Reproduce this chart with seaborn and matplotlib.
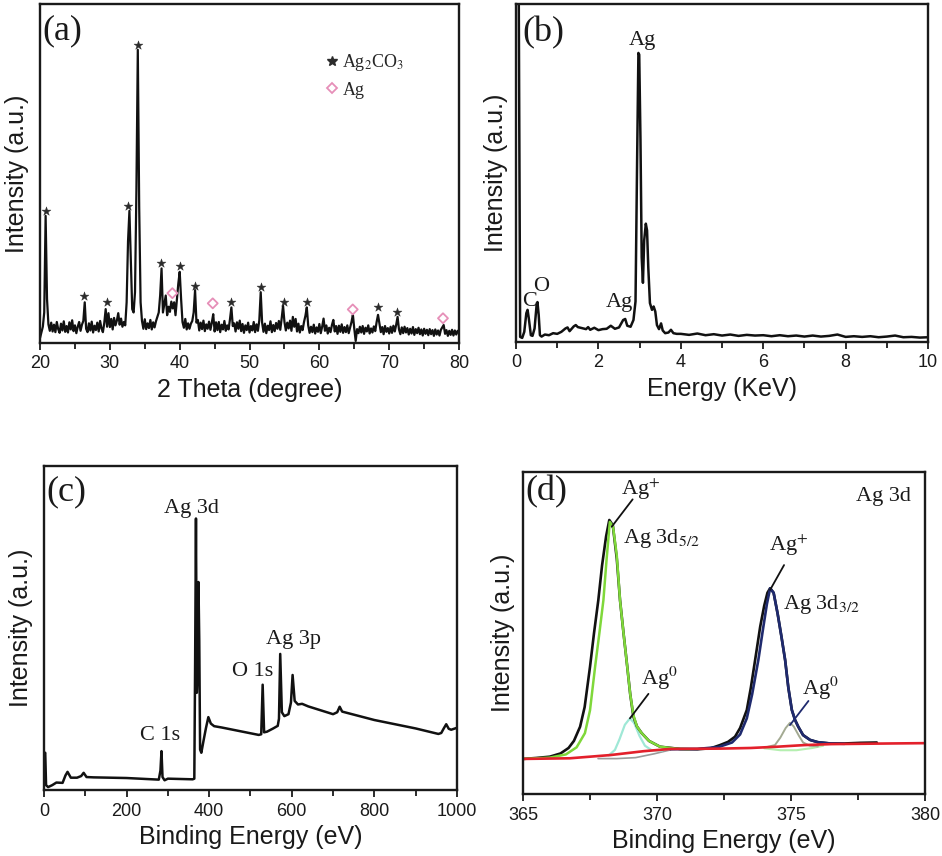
import numpy as np
import matplotlib
matplotlib.use("Agg")
import matplotlib.pyplot as plt
import seaborn as sns
from matplotlib.ticker import MultipleLocator
from matplotlib.lines import Line2D

# ---------------- (a) XRD pattern: sampled every 0.2 degree from 20 to 80 ----------------
xrd_start = 20.0
xrd_step = 0.2
xrd_y = [
    1.5, 3.2, 4.8, 9.0, 37.5, 13.0, 5.5, 3.6, 6.0, 3.4,      # 20.0-21.8
    5.4, 3.2, 6.2, 4.1, 3.0, 5.7, 3.7, 6.4, 3.3, 5.0,        # 22.0-23.8
    3.1, 6.1, 4.0, 6.7, 3.5, 5.2, 2.9, 4.8, 6.2, 3.6,        # 24.0-25.8
    5.4, 6.5, 12.0, 4.2, 3.2, 5.8, 3.7, 6.3, 3.1, 5.1,       # 26.0-27.8
    3.8, 6.0, 3.4, 6.5, 4.3, 3.2, 5.9, 10.0, 4.8, 8.8,       # 28.0-29.8
    4.7, 7.1, 4.0, 7.4, 5.2, 6.6, 8.8, 5.4, 7.2, 4.8,        # 30.0-31.8
    6.2, 5.2, 12.0, 30.0, 39.0, 24.0, 10.0, 9.0, 15.0, 45.0, # 32.0-33.8
    86.5, 40.0, 12.0, 6.5, 4.2, 7.0, 4.1, 5.8, 4.4, 6.8,     # 34.0-35.8
    4.0, 6.1, 4.6, 6.4, 7.7, 9.0, 14.0, 22.0, 9.0, 11.5,     # 36.0-37.8
    14.0, 8.2, 10.7, 9.2, 12.2, 10.2, 12.0, 8.2, 12.7, 17.5, # 38.0-39.8
    21.0, 13.0, 6.2, 4.5, 7.1, 4.0, 5.8, 4.2, 5.7, 6.5,      # 40.0-41.8
    9.0, 15.6, 6.0, 6.8, 3.7, 6.0, 4.1, 6.6, 3.5, 5.5,       # 42.0-43.8
    4.2, 6.3, 3.9, 6.0, 8.5, 3.4, 6.1, 3.8, 6.2, 3.2,        # 44.0-45.8
    5.4, 4.0, 6.5, 3.6, 5.2, 4.0, 7.0, 10.5, 5.0, 5.8,       # 46.0-47.8
    3.4, 6.1, 4.2, 6.6, 3.5, 5.6, 3.0, 5.2, 3.8, 6.0,        # 48.0-49.8
    3.1, 5.0, 3.7, 6.2, 3.2, 5.5, 3.6, 6.7, 15.0, 6.0,       # 50.0-51.8
    3.3, 5.7, 2.9, 5.1, 3.8, 6.4, 3.2, 5.3, 3.5, 5.9,        # 52.0-53.8
    4.2, 6.5, 3.9, 7.2, 11.0, 6.2, 3.7, 6.0, 4.3, 6.6,       # 54.0-55.8
    3.6, 7.7, 4.8, 7.1, 3.4, 5.7, 3.1, 5.0, 3.8, 6.2,        # 56.0-57.8
    8.0, 10.5, 5.2, 3.0, 4.8, 3.2, 5.4, 2.8, 4.6, 3.3,       # 58.0-59.8
    5.6, 2.9, 4.8, 7.2, 3.6, 5.2, 2.8, 4.5, 3.2, 5.3,        # 60.0-61.8
    6.8, 3.4, 5.0, 2.7, 5.1, 3.3, 5.5, 3.0, 4.7, 3.2,        # 62.0-63.8
    5.2, 2.9, 4.6, 6.2, 8.3, 4.2, 0.6, 4.1, 2.9, 4.8,        # 64.0-65.8
    3.1, 5.0, 2.7, 4.5, 3.4, 5.2, 2.8, 4.3, 3.1, 4.9,        # 66.0-67.8
    3.5, 6.2, 8.3, 5.7, 3.2, 4.7, 2.6, 5.0, 3.3, 4.4,        # 68.0-69.8
    2.8, 4.8, 3.0, 5.1, 3.4, 5.4, 7.7, 4.0, 2.6, 4.6,        # 70.0-71.8
    2.9, 4.8, 3.1, 4.4, 2.5, 4.2, 2.8, 4.7, 2.4, 4.1,        # 72.0-73.8
    2.9, 4.5, 2.6, 4.0, 2.2, 4.2, 2.7, 3.9, 2.3, 4.1,        # 74.0-75.8
    2.6, 3.8, 2.1, 4.0, 2.5, 3.7, 2.2, 3.9, 4.6, 5.3,        # 76.0-77.8
    2.7, 3.8, 2.1, 3.6, 2.4, 3.9, 2.2, 3.7, 2.5, 3.6,        # 78.0-79.8
    2.8,                                                     # 80.0
]
star_x = [20.86, 26.35, 29.55, 32.65, 33.99, 37.37, 40.09, 42.2, 47.4, 51.65, 54.9, 58.23, 68.44, 71.17]
star_y = [38.9, 13.9, 12.1, 40.5, 87.9, 23.5, 22.8, 16.9, 12.1, 16.6, 12.1, 12.1, 10.7, 9.0]
diam_x = [38.95, 44.73, 64.78, 77.7]
diam_y = [14.7, 11.7, 9.9, 7.3]
legend_labels_a = ["Ag$_2$CO$_3$", "Ag"]

# ---------------- (b) EDS spectrum ----------------
eds_x = [0.00, 0.06, 0.10, 0.15, 0.20, 0.25, 0.28, 0.31, 0.36, 0.40, 0.45, 0.50, 0.52, 0.55, 0.58,
         0.62, 0.70, 0.80, 0.90, 1.00, 1.10, 1.20, 1.25, 1.30, 1.40, 1.45, 1.50, 1.60, 1.70, 1.75,
         1.80, 1.90, 2.00, 2.10, 2.20, 2.30, 2.40, 2.50, 2.60, 2.65, 2.70, 2.78, 2.85, 2.90, 2.94,
         2.97, 2.99, 3.02, 3.05, 3.08, 3.11, 3.15, 3.18, 3.21, 3.25, 3.30, 3.34, 3.38, 3.42, 3.47,
         3.52, 3.56, 3.62, 3.70, 3.76, 3.82, 3.90,
         4.0, 4.2, 4.4, 4.6, 4.8, 5.0, 5.2, 5.4, 5.6, 5.8, 6.0, 6.2, 6.4, 6.6, 6.8, 7.0, 7.2, 7.4,
         7.6, 7.8, 8.0, 8.2, 8.4, 8.6, 8.8, 9.0, 9.2, 9.4, 9.6, 9.8, 10.0]
eds_y = [120.0, 120.0, 1.5, 1.2, 3.0, 8.5, 9.5, 7.0, 2.0, 1.8, 4.0, 11.0, 11.8, 8.0, 2.0,
         1.6, 2.2, 2.0, 2.6, 2.4, 3.0, 4.0, 4.3, 3.2, 4.6, 5.0, 4.4, 4.1, 3.8, 4.4,
         3.6, 4.2, 3.5, 3.8, 3.9, 4.8, 3.9, 4.3, 6.5, 6.8, 4.8, 4.5, 6.5, 12.0, 55.0,
         85.5, 85.0, 60.0, 25.0, 17.5, 30.0, 35.0, 33.0, 22.0, 11.5, 9.5, 10.5, 9.0, 5.0, 3.8,
         5.5, 3.4, 2.6, 2.8, 3.6, 2.6, 2.4,
         2.4, 2.1, 2.5, 2.0, 2.3, 1.9, 2.2, 1.8, 2.1, 1.9, 2.0, 1.7, 2.0, 1.7, 1.9, 1.6, 1.9, 1.6,
         1.8, 2.2, 1.5, 1.7, 1.5, 1.7, 1.4, 1.6, 1.9, 1.4, 1.5, 1.3, 1.4]
eds_labels = ["Ag", "C", "O", "Ag"]
eds_label_x = [3.07, 0.32, 0.60, 2.51]
eds_label_y = [89.3, 12.0, 16.4, 11.8]

# ---------------- (c) XPS survey ----------------
xps_x = [0, 3, 5, 10, 20, 30, 45, 52, 57, 65, 80, 90, 96, 103, 120, 200, 278, 282, 284.5, 287,
         292, 300, 360, 364, 366, 368, 370, 372, 374, 376, 378, 381, 386, 392, 398, 404, 412, 430,
         520, 526, 529.5, 533, 540, 555, 566, 569, 572, 576, 582, 592, 598, 602, 607, 615, 625,
         640, 700, 710, 716, 722, 800, 900, 955, 962, 968, 974, 980, 986, 1000]
xps_y = [11.0, 11.5, 1.5, 0.9, 1.5, 2.3, 2.2, 4.5, 5.6, 3.8, 3.8, 4.3, 5.3, 4.0, 3.9, 3.7, 3.2, 6.0, 12.0, 4.0,
         3.0, 3.5, 3.3, 3.5, 40.0, 83.8, 30.0, 36.0, 64.2, 46.0, 12.5, 11.5, 15.0, 19.0, 22.5, 20.5, 19.7, 19.3,
         17.0, 17.2, 32.5, 17.8, 18.0, 19.0, 19.8, 22.0, 42.0, 24.0, 22.8, 23.4, 27.0, 35.5, 27.5, 26.4, 26.6,
         25.8, 23.4, 24.0, 25.7, 24.2, 21.6, 19.0, 17.3, 17.6, 19.0, 20.3, 18.9, 18.6, 19.2]
xps_labels = ["Ag 3d", "C 1s", "O 1s", "Ag 3p"]
xps_label_x = [356, 281, 505, 604]
xps_label_y = [86.9, 16.8, 36.6, 46.6]

# ---------------- (d) Ag 3d high resolution ----------------
env_x = [365.0, 365.5, 366.0, 366.4, 366.7, 366.9, 367.13, 367.3, 367.5, 367.65, 367.81, 367.95, 368.1,
         368.22, 368.35, 368.5, 368.62, 368.75, 368.89, 369.0, 369.12, 369.25, 369.43, 369.7, 370.11,
         370.86, 371.5, 372.0, 372.35, 372.65, 372.91, 373.1, 373.35, 373.5, 373.66, 373.85, 374.0,
         374.12, 374.22, 374.35, 374.5, 374.64, 374.78, 374.9, 375.03, 375.15, 375.27, 375.45, 375.71,
         376.0, 376.46, 377.0, 377.6, 378.2]
env_y = [10.9, 11.2, 11.6, 12.6, 14.3, 16.5, 20.9, 27.0, 39.5, 50.0, 60.2, 71.0, 80.0,
         85.1, 83.5, 73.0, 60.2, 50.0, 39.5, 31.0, 24.0, 21.0, 18.9, 16.5, 14.7,
         14.0, 13.9, 14.2, 15.2, 16.2, 17.8, 20.5, 26.1, 33.0, 41.6, 52.0, 58.5,
         62.5, 63.9, 62.5, 56.0, 49.0, 41.6, 33.0, 26.1, 23.0, 20.9, 18.3, 16.8,
         16.1, 15.7, 15.7, 15.9, 16.0]
g52_x = [365.0, 366.0, 366.6, 367.0, 367.31, 367.5, 367.69, 367.85, 368.0, 368.12, 368.24, 368.36, 368.5,
         368.62, 368.75, 368.89, 369.0, 369.12, 369.25, 369.43, 369.7, 370.11, 370.5, 370.86, 371.2]
g52_y = [10.9, 11.3, 12.3, 14.5, 18.9, 26.0, 39.5, 50.0, 60.2, 73.0, 84.5, 83.0, 74.0,
         60.2, 50.0, 39.5, 31.0, 24.5, 21.0, 18.9, 16.5, 14.7, 14.3, 14.0, 13.9]
ag0a_x = [368.2, 368.43, 368.6, 368.8, 368.99, 369.15, 369.35, 369.55, 369.8, 370.2]
ag0a_y = [12.0, 13.7, 17.0, 21.5, 23.5, 22.0, 18.0, 15.0, 13.6, 13.5]
b32_x = [370.5, 371.5, 372.3, 372.8, 373.1, 373.35, 373.55, 373.78, 373.95, 374.1, 374.22, 374.35, 374.5,
         374.64, 374.78, 374.9, 375.03, 375.15, 375.27, 375.45, 375.71, 376.0, 376.46, 377.0]
b32_y = [13.9, 14.0, 14.6, 16.0, 18.5, 23.5, 31.0, 41.6, 51.0, 59.0, 63.9, 62.5, 56.0,
         49.0, 41.6, 33.0, 26.1, 23.0, 20.9, 18.3, 16.8, 16.1, 15.7, 15.6]
ag0b_x = [374.1, 374.4, 374.6, 374.8, 374.96, 375.1, 375.3, 375.45, 375.7, 376.0]
ag0b_y = [14.6, 15.2, 17.5, 20.5, 22.1, 21.0, 18.0, 16.0, 15.0, 14.8]
gtail_x = [374.0, 374.6, 375.2, 375.8, 376.2]
gtail_y = [14.2, 13.6, 13.6, 14.3, 15.0]
gray_x = [367.8, 368.5, 369.2, 369.9, 370.5]
gray_y = [11.0, 11.0, 11.3, 12.5, 13.7]
bg_x = [365.0, 366.75, 368.26, 369.5, 370.5, 372.35, 373.5, 374.5, 375.5, 376.5, 378.7, 380.0]
bg_y = [10.9, 11.1, 12.1, 13.3, 14.0, 14.1, 14.3, 14.7, 15.2, 15.5, 15.7, 15.8]

# text labels for (d)
d_labels = ["Ag$^{+}$", "Ag$^{+}$", "Ag$^{0}$", "Ag$^{0}$"]
d_text_x = [369.4, 374.92, 370.08, 376.1]
d_text_y = [94.7, 77.1, 35.9, 32.8]
d_line_x0 = [369.09, 374.74, 369.68, 375.65]
d_line_y0 = [91.5, 71.1, 31.1, 28.9]
d_line_x1 = [368.31, 374.22, 368.99, 374.96]
d_line_y1 = [83.0, 63.4, 23.5, 21.4]
d_line_col = ["#111111", "#111111", "#111111", "#1f2a6e"]
d_sub_labels = ["Ag 3d$_{5/2}$", "Ag 3d$_{3/2}$", "Ag 3d"]
d_sub_x = [370.15, 376.13, 378.43]
d_sub_y = [79.3, 58.7, 92.4]

# ---------------- styling ----------------
sns.set_theme(style="ticks")
plt.rcParams["font.family"] = ["Liberation Sans", "DejaVu Sans"]
plt.rcParams["mathtext.fontset"] = "stix"
SERIF = ["Liberation Serif", "DejaVu Serif"]
INK = "#1a1a1a"

fig = plt.figure(figsize=(9.42, 8.56), dpi=100)
axA = fig.add_axes([0.0425, 0.5993, 0.4448, 0.3960])
axB = fig.add_axes([0.5478, 0.6005, 0.4374, 0.3949])
axC = fig.add_axes([0.0467, 0.0771, 0.4384, 0.3785])
axD = fig.add_axes([0.5552, 0.0724, 0.4268, 0.3762])


def style(ax, xlim, major, minor, xlabel, ypad, panel, panel_xy):
    ax.set_xlim(*xlim)
    ax.set_ylim(0, 100)
    ax.xaxis.set_major_locator(MultipleLocator(major))
    ax.xaxis.set_minor_locator(MultipleLocator(minor))
    ax.set_yticks([])
    ax.tick_params(axis="x", which="major", direction="out", length=5, width=1.3,
                   labelsize=13, pad=4, color=INK, labelcolor=INK)
    ax.tick_params(axis="x", which="minor", direction="out", length=4, width=1.3, color=INK)
    for s in ax.spines.values():
        s.set_visible(True)
        s.set_linewidth(1.7)
        s.set_color(INK)
    ax.set_xlabel(xlabel, fontsize=18, labelpad=4, color=INK)
    ax.set_ylabel("Intensity (a.u.)", fontsize=18, labelpad=ypad, color=INK)
    ax.text(panel_xy[0], panel_xy[1], panel, transform=ax.transAxes, ha="left", va="top",
            fontsize=26, family=SERIF, color=INK)


# (a)
xrd_x = xrd_start + xrd_step * np.arange(len(xrd_y))
sns.lineplot(x=xrd_x, y=xrd_y, ax=axA, color="#111111", lw=1.6, estimator=None, sort=False)
sns.scatterplot(x=star_x, y=star_y, ax=axA, marker="*", s=45, color="#2b2b2b", edgecolor="#2b2b2b",
                linewidth=0.3, zorder=5)
sns.scatterplot(x=diam_x, y=diam_y, ax=axA, marker="D", s=26, facecolor="none", edgecolor="#e68fb8",
                linewidth=1.3, zorder=5)
handles = [Line2D([], [], marker="*", ls="", color="#2b2b2b", ms=7),
           Line2D([], [], marker="D", ls="", mfc="none", mec="#e68fb8", mew=1.3, ms=5)]
axA.legend(handles, legend_labels_a, loc="upper left", bbox_to_anchor=(0.683, 0.857), frameon=False,
           prop={"family": SERIF, "size": 13}, handlelength=0.6, handletextpad=0.3,
           labelspacing=0.45, borderpad=0, borderaxespad=0)
style(axA, (20, 80), 10, 5, "2 Theta (degree)", 8, "(a)", (0.005, 0.97))

# (b)
sns.lineplot(x=eds_x, y=eds_y, ax=axB, color="#111111", lw=1.8, estimator=None, sort=False)
for t, x, y in zip(eds_labels, eds_label_x, eds_label_y):
    axB.text(x, y, t, ha="center", va="center", fontsize=16, family=SERIF, color=INK)
style(axB, (0, 10), 2, 1, "Energy (KeV)", 6, "(b)", (0.015, 0.965))

# (c)
sns.lineplot(x=xps_x, y=xps_y, ax=axC, color="#111111", lw=1.8, estimator=None, sort=False)
for t, x, y in zip(xps_labels, xps_label_x, xps_label_y):
    axC.text(x, y, t, ha="center", va="center", fontsize=16, family=SERIF, color=INK)
style(axC, (0, 1000), 200, 100, "Binding Energy (eV)", 8, "(c)", (0.005, 0.97))

# (d)
sns.lineplot(x=gray_x, y=gray_y, ax=axD, color="#9a9a9a", lw=1.2, estimator=None, sort=False)
sns.lineplot(x=gtail_x, y=gtail_y, ax=axD, color="#b5efb0", lw=1.5, estimator=None, sort=False)
sns.lineplot(x=ag0a_x, y=ag0a_y, ax=axD, color="#9fe8d6", lw=1.6, estimator=None, sort=False)
sns.lineplot(x=ag0b_x, y=ag0b_y, ax=axD, color="#a3aa92", lw=1.4, estimator=None, sort=False)
sns.lineplot(x=env_x, y=env_y, ax=axD, color="#111111", lw=1.9, estimator=None, sort=False)
sns.lineplot(x=g52_x, y=g52_y, ax=axD, color="#7fd83a", lw=1.8, estimator=None, sort=False)
sns.lineplot(x=b32_x, y=b32_y, ax=axD, color="#1f2a6e", lw=1.9, estimator=None, sort=False)
sns.lineplot(x=bg_x, y=bg_y, ax=axD, color="#e3202b", lw=1.9, estimator=None, sort=False)
for t, tx, ty, x0, y0, x1, y1, c in zip(d_labels, d_text_x, d_text_y, d_line_x0, d_line_y0,
                                        d_line_x1, d_line_y1, d_line_col):
    axD.text(tx, ty, t, ha="center", va="center", fontsize=16, family=SERIF, color=INK)
    axD.plot([x0, x1], [y0, y1], color=c, lw=1.3)
for t, x, y in zip(d_sub_labels, d_sub_x, d_sub_y):
    axD.text(x, y, t, ha="center", va="center", fontsize=16, family=SERIF, color=INK)
style(axD, (365, 380), 5, 2.5, "Binding Energy (eV)", 6, "(d)", (0.005, 0.99))

fig.savefig("out.png", dpi=100)
